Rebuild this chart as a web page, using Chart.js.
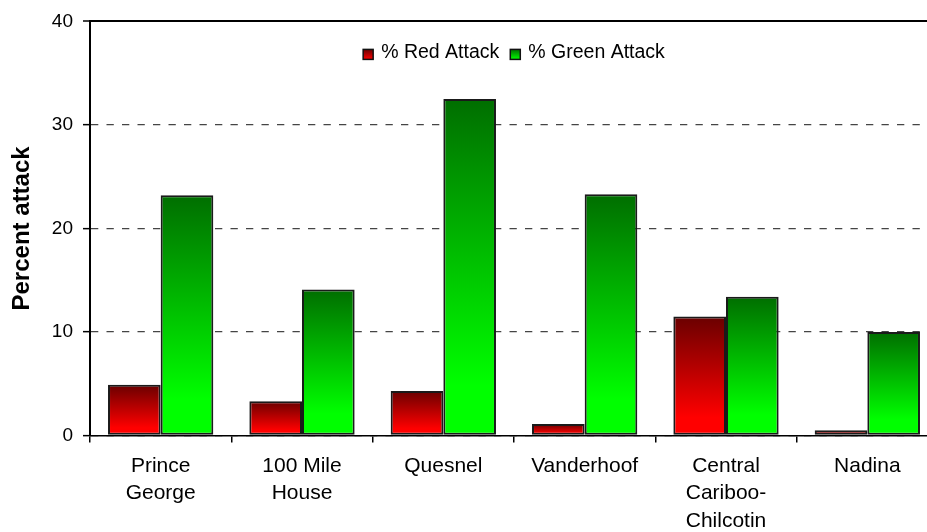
<!DOCTYPE html>
<html>
<head>
<meta charset="utf-8">
<script src="https://cdn.jsdelivr.net/npm/chart.js@4/dist/chart.umd.min.js"></script>
<style>
  html, body { margin: 0; padding: 0; background: #fff; overflow: hidden; }
  #wrap { position: absolute; left: 0; top: 0; width: 950px; height: 532px; }
</style>
</head>
<body>
<div id="wrap"><canvas id="chart" width="950" height="532"></canvas></div>
<script>
// Forest districts
const districts = [
  ['Prince', 'George'],
  ['100 Mile', 'House'],
  'Quesnel',
  'Vanderhoof',
  ['Central', 'Cariboo-', 'Chilcotin'],
  'Nadina'
];
// Percent of stand under attack
const redAttack   = [4.9, 3.3, 4.3, 1.1, 11.5, 0.5];
const greenAttack = [23.2, 14.1, 32.5, 23.3, 13.4, 10.0];
const yTicks = [0, 10, 20, 30, 40];

const FONT = "'Liberation Sans', Arial, sans-serif";

// vertical gradient per bar: dark at the top, bright at the base
function barGradient(dark, bright) {
  return (ctx) => {
    const chart = ctx.chart;
    const y = chart.scales && chart.scales.y;
    if (!chart.chartArea || !y || ctx.raw === undefined) return bright;
    const top = y.getPixelForValue(ctx.raw);
    const base = y.getPixelForValue(0);
    if (!isFinite(top) || !isFinite(base) || Math.abs(base - top) < 1) return bright;
    const g = chart.ctx.createLinearGradient(0, top, 0, base);
    g.addColorStop(0, dark);
    g.addColorStop(0.85, bright);
    g.addColorStop(1, bright);
    return g;
  };
}

const series = [
  { label: '% Red Attack', data: redAttack, dark: '#6a0000', bright: '#ff0000' },
  { label: '% Green Attack', data: greenAttack, dark: '#006e00', bright: '#00ff00' }
];

// legend drawn inside the plot, centred under the top frame
const innerLegend = {
  id: 'innerLegend',
  afterDraw(chart) {
    const { ctx, chartArea } = chart;
    const box = 10, gapText = 8, gapItem = 11;
    ctx.save();
    ctx.font = '19.5px ' + FONT;
    ctx.textBaseline = 'middle';
    const items = chart.data.datasets.map((ds, i) => ({
      ds, s: series[i], w: box + gapText + ctx.measureText(ds.label).width
    }));
    const total = items.reduce((a, it) => a + it.w, 0) + gapItem * (items.length - 1);
    let x = (chartArea.left + chartArea.right) / 2 - total / 2;
    const cy = chartArea.top + 30;
    items.forEach((it) => {
      const by = cy - box / 2 + 3;
      const g = ctx.createLinearGradient(0, by, 0, by + box);
      g.addColorStop(0, it.s.dark);
      g.addColorStop(1, it.s.bright);
      ctx.fillStyle = g;
      ctx.fillRect(x, by, box, box);
      ctx.strokeStyle = '#111';
      ctx.lineWidth = 1.5;
      ctx.strokeRect(x, by, box, box);
      ctx.fillStyle = '#000';
      ctx.fillText(it.ds.label, x + box + gapText, cy + 1);
      x += it.w + gapItem;
    });
    ctx.restore();
  }
};

new Chart(document.getElementById('chart'), {
  type: 'bar',
  data: {
    labels: districts,
    datasets: series.map((s) => ({
      label: s.label,
      data: s.data,
      backgroundColor: barGradient(s.dark, s.bright),
      borderColor: '#1a1a1a',
      borderWidth: 2,
      borderSkipped: false,
      barPercentage: 1.0,
      categoryPercentage: 0.745
    }))
  },
  options: {
    responsive: false,
    animation: false,
    devicePixelRatio: 1,
    layout: { padding: { top: 20, right: 12, bottom: 0, left: 0 } },
    plugins: {
      legend: { display: false },
      tooltip: { enabled: false }
    },
    scales: {
      x: {
        offset: true,
        grid: {
          offset: true,
          drawOnChartArea: false,
          drawTicks: true,
          tickLength: 7,
          color: '#000',
          tickColor: '#000',
          lineWidth: 1.5
        },
        border: { display: true, color: '#000', width: 1.5 },
        ticks: {
          color: '#000',
          font: { family: FONT, size: 21, lineHeight: 1.3 },
          padding: 10,
          maxRotation: 0,
          autoSkip: false
        },
        afterFit(scale) { scale.height = 96.5; }
      },
      y: {
        min: 0,
        max: 40,
        afterBuildTicks(scale) { scale.ticks = yTicks.map((v) => ({ value: v })); },
        grid: {
          drawTicks: true,
          tickLength: 7,
          color: (c) => (c.tick && c.tick.value === 40 ? '#000' : '#454545'),
          lineWidth: (c) => (c.tick && c.tick.value === 40 ? 2 : 1.3),
          tickColor: '#000',
          tickWidth: 1.5,
          tickBorderDash: []
        },
        border: {
          display: true,
          color: '#000',
          width: 2,
          dash: (c) => (c.tick && c.tick.value === 40 ? [] : [7.3, 8.2])
        },
        ticks: {
          color: '#000',
          font: { family: FONT, size: 19 },
          padding: 10
        },
        title: {
          display: true,
          text: 'Percent attack',
          color: '#000',
          font: { family: FONT, size: 24, weight: 'bold' },
          padding: { top: 8, bottom: 0 }
        },
        afterFit(scale) { scale.width = 90; }
      }
    }
  },
  plugins: [innerLegend]
});
</script>
</body>
</html>
